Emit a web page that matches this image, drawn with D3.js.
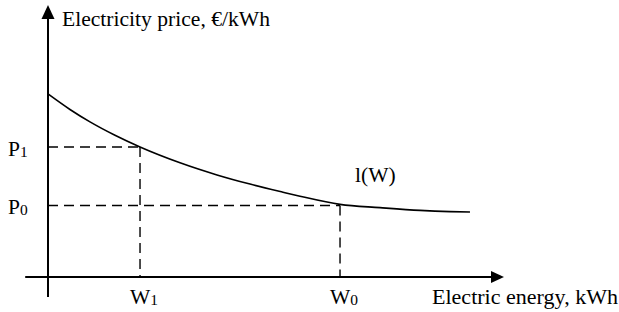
<!DOCTYPE html>
<html>
<head>
<meta charset="utf-8">
<script src="https://cdn.jsdelivr.net/npm/d3@7"></script>
<style>
  html, body { margin: 0; padding: 0; background: #fff; }
  svg { display: block; }
</style>
</head>
<body>
<script>
// ---- data ----
const energyValues = [0, 4.82, 9.21, 14.69, 20.18, 28.95, 37.06, 44.30, 51.54, 55.26, 64.04, 72.81, 81.58, 88.16, 92.54];
const priceValues  = [67.8, 62.04, 57.44, 52.48, 48.15, 42.30, 37.81, 34.41, 31.41, 29.93, 26.9, 25.70, 24.67, 24.22, 24.07];
const markEnergy = [20.18, 64.04];         // W1, W0
const markPrice  = [48.15, 26.5];          // P1, P0
const markEnergyLabels = ["W", "W"];
const markEnergySubs   = ["1", "0"];
const markPriceLabels  = ["P", "P"];
const markPriceSubs    = ["1", "0"];
const curveLabel = "l(W)";
const yAxisTitle = "Electricity price, €/kWh";
const xAxisTitle = "Electric energy, kWh";

const W = 619, H = 312;
const FONT = "'Liberation Serif', 'Tinos', 'Times New Roman', 'Nimbus Roman', 'DejaVu Serif', serif";
const svg = d3.select("body").append("svg").attr("width", W).attr("height", H)
  .style("font-family", FONT);

const x = d3.scaleLinear().domain([0, 100]).range([48, 504]);
const y = d3.scaleLinear().domain([0, 100]).range([277, 7]);

// axes
svg.append("line")
  .attr("x1", x(-5)).attr("x2", x(98)).attr("y1", y(0)).attr("y2", y(0))
  .attr("stroke", "#000").attr("stroke-width", 2);
svg.append("line")
  .attr("x1", x(0)).attr("x2", x(0)).attr("y1", y(-7.4)).attr("y2", y(96))
  .attr("stroke", "#000").attr("stroke-width", 2);
// arrowheads
svg.append("path")
  .attr("d", `M${x(100)},${y(0)} L${x(100) - 13},${y(0) - 6} L${x(100) - 13},${y(0) + 6} Z`)
  .attr("fill", "#000");
svg.append("path")
  .attr("d", `M${x(0)},${y(100) - 2} L${x(0) - 6.5},${y(100) + 12} L${x(0) + 6.5},${y(100) + 12} Z`)
  .attr("fill", "#000");

// dashed guide lines
markEnergy.forEach((e, i) => {
  const p = markPrice[i];
  svg.append("line")
    .attr("x1", x(0)).attr("x2", x(e)).attr("y1", y(p)).attr("y2", y(p))
    .attr("stroke", "#000").attr("stroke-width", 1.4).attr("stroke-dasharray", "10,6");
  svg.append("line")
    .attr("x1", x(e)).attr("x2", x(e)).attr("y1", y(p)).attr("y2", y(0))
    .attr("stroke", "#000").attr("stroke-width", 1.4).attr("stroke-dasharray", "10,6");
});

// curve
const pts = energyValues.map((e, i) => [e, priceValues[i]]);
svg.append("path")
  .attr("d", d3.line().x(d => x(d[0])).y(d => y(d[1])).curve(d3.curveMonotoneX)(pts))
  .attr("fill", "none").attr("stroke", "#000").attr("stroke-width", 1.6);

// labels
const fs = 21.5;
function txt(tx, ty) {
  return svg.append("text").attr("x", tx).attr("y", ty)
    .attr("font-family", FONT).style("font-family", FONT)
    .attr("font-size", fs).attr("fill", "#000");
}
function subLabel(tx, ty, main, sub, anchor) {
  const t = txt(tx, ty).attr("text-anchor", anchor);
  t.append("tspan").text(main);
  t.append("tspan").attr("font-size", fs * 0.72).attr("dy", 1).text(sub);
}
markPrice.forEach((p, i) => {
  subLabel(8, y(p) + 9, markPriceLabels[i], markPriceSubs[i], "start");
});
markEnergy.forEach((e, i) => {
  subLabel(x(e) + 4, y(0) + 27, markEnergyLabels[i], markEnergySubs[i], "middle");
});

txt(355, 182).text(curveLabel);
txt(62, 26).text(yAxisTitle).attr("textLength", 208).attr("lengthAdjust", "spacingAndGlyphs");
txt(432, 304).text(xAxisTitle).attr("textLength", 186).attr("lengthAdjust", "spacingAndGlyphs");
</script>
</body>
</html>
